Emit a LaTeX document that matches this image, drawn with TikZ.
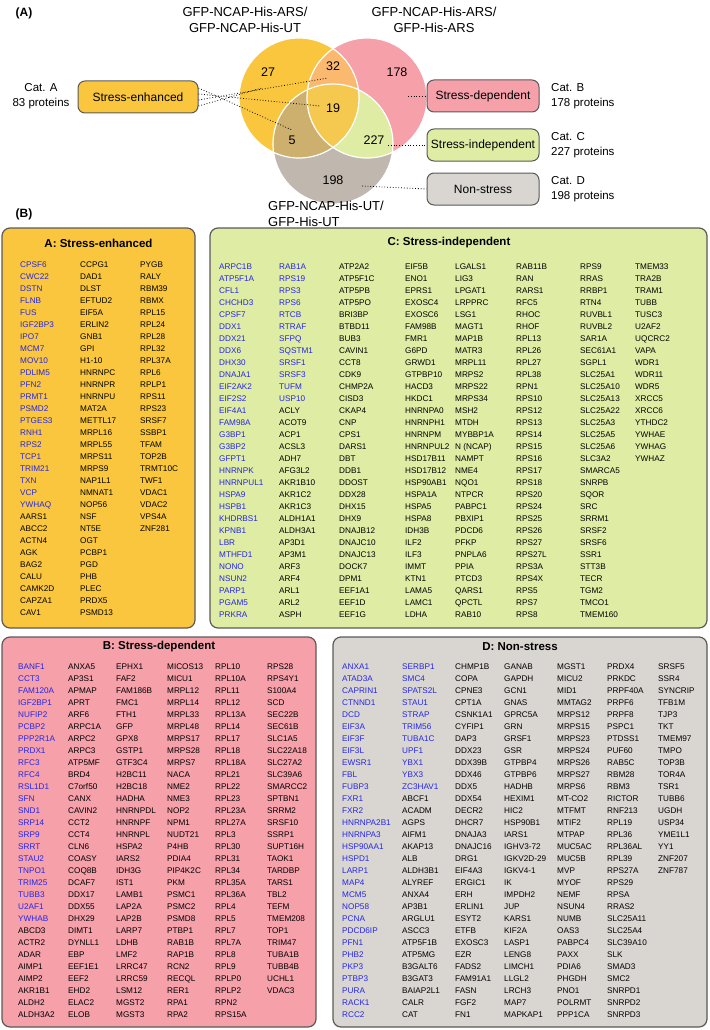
\documentclass[tikz,border=0pt]{standalone}
\usepackage{fontspec}
\setmainfont{Liberation Sans}
\usetikzlibrary{positioning}
\definecolor{catyellow}{RGB}{249,198,62}
\definecolor{catpink}{RGB}{246,160,170}
\definecolor{catgreen}{RGB}{222,236,164}
\definecolor{catgray}{RGB}{217,214,210}
\definecolor{vgray}{RGB}{192,184,174}
\definecolor{vorange}{RGB}{250,185,110}
\definecolor{vcentre}{RGB}{245,200,80}
\definecolor{vbrown}{RGB}{205,175,110}
\definecolor{geneblue}{RGB}{38,38,226}
\definecolor{panelline}{RGB}{90,90,90}

\tikzset{
  gene/.style={anchor=west, inner sep=0pt, font=\fontsize{8.2}{9}\selectfont,
    text height=6pt, text depth=0pt},
  hit/.style={gene, text=geneblue},
  panel/.style={draw=panelline, line width=1.2pt, rounded corners=8pt},
  paneltitle/.style={inner sep=0pt, font=\fontsize{11.5}{13}\selectfont\bfseries},
  catbox/.style={draw=panelline, line width=1pt, rounded corners=7pt,
    minimum width=112pt, minimum height=32pt, inner sep=0pt,
    font=\fontsize{12}{14}\selectfont},
  catlabel/.style={inner sep=0pt, font=\fontsize{11.5}{15}\selectfont},
  setlabel/.style={inner sep=0pt, align=center, font=\fontsize{13}{16}\selectfont},
  count/.style={inner sep=0pt, font=\fontsize{12.5}{14}\selectfont},
  link/.style={dotted, line width=0.8pt},
}

\begin{document}
\begin{tikzpicture}[x=1pt, y=-1pt]
\useasboundingbox (0,0) rectangle (709,1030);

% ---- (A) Venn diagram ----
\node[inner sep=0pt, font=\fontsize{12}{14}\selectfont\bfseries] (tagA) at (24,13) {(A)};
\coordinate (cy) at (299,98);
\coordinate (cp) at (367,98);
\coordinate (cg) at (333,144);
\fill[catyellow] (cy) circle (60pt);
\fill[catpink] (cp) circle (60pt);
\fill[vgray] (cg) circle (60pt);
\begin{scope}
  \clip (cy) circle (60pt);
  \fill[vorange] (cp) circle (60pt);
  \fill[vbrown] (cg) circle (60pt);
\end{scope}
\begin{scope}
  \clip (cp) circle (60pt);
  \fill[catgreen] (cg) circle (60pt);
\end{scope}
\begin{scope}
  \clip (cy) circle (60pt);
  \clip (cp) circle (60pt);
  \fill[vcentre] (cg) circle (60pt);
\end{scope}
\foreach \c in {cy,cp,cg}
  \draw[white, line width=1.2pt] (\c) circle (60pt);

\node[count] (n27) at (268,72) {27};
\node[count] (n32) at (333,66) {32};
\node[count] (n178) at (397,72) {178};
\node[count] (n19) at (333,108) {19};
\node[count] (n5) at (292,140) {5};
\node[count] (n227) at (374,140) {227};
\node[count] (n198) at (333,180) {198};

\node[setlabel] (setYA) at (245,20) {GFP-NCAP-His-ARS/\\GFP-NCAP-His-UT};
\node[setlabel] (setPA) at (434,20) {GFP-NCAP-His-ARS/\\GFP-His-ARS};
\node[setlabel, align=left, anchor=west] (setGU) at (268,214) {GFP-NCAP-His-UT/\\GFP-His-UT};

\node[catbox, fill=catyellow, minimum width=120pt] (senh) at (138,97) {Stress-enhanced};
\node[catbox, fill=catpink] (sdep) at (483,96) {Stress-dependent};
\node[catbox, fill=catgreen] (sind) at (483,145) {Stress-independent};
\node[catbox, fill=catgray] (snon) at (483,189) {Non-stress};

\node[catlabel, align=center] (catA) at (41,96) {Cat. A\\83 proteins};
\node[catlabel, align=left, anchor=west] (catB) at (551,96) {Cat. B\\178 proteins};
\node[catlabel, align=left, anchor=west] (catC) at (551,145) {Cat. C\\227 proteins};
\node[catlabel, align=left, anchor=west] (catD) at (551,189) {Cat. D\\198 proteins};

\coordinate (r27) at (262,88);
\coordinate (r32) at (328,78);
\coordinate (r19) at (320,106);
\coordinate (r5) at (292,130);
\coordinate (r178) at (408,96);
\coordinate (r227) at (388,145);
\coordinate (r198) at (362,186);
\draw[link] ([yshift=-9pt]senh.east) -- (r27);
\draw[link] ([yshift=-3pt]senh.east) -- (r32);
\draw[link] ([yshift=3pt]senh.east) -- (r19);
\draw[link] ([yshift=9pt]senh.east) -- (r5);
\draw[link] (r178) -- (sdep.west);
\draw[link] (r227) -- (sind.west);
\draw[link] (r198) -- (snon.west);

% ---- (B) protein lists ----
\node[inner sep=0pt, font=\fontsize{12}{14}\selectfont\bfseries] (tagB) at (24,214) {(B)};

% A: stress-enhanced
\draw[panel, fill=catyellow] (2,228) rectangle (195,628);
\node[paneltitle] (titA) at (98.5,243) {A: Stress-enhanced};
\foreach \g [count=\i from 0] in {CPSF6,CWC22,DSTN,FLNB,FUS,IGF2BP3,IPO7,MCM7,MOV10,PDLIM5,
    PFN2,PRMT1,PSMD2,PTGES3,RNH1,RPS2,TCP1,TRIM21,TXN,VCP,YWHAQ}
  \node[hit] (a1-\i) at (20,264+12*\i) {\g};
\foreach \g [count=\i from 21] in {AARS1,ABCC2,ACTN4,AGK,BAG2,CALU,CAMK2D,CAPZA1,CAV1}
  \node[gene] (a1-\i) at (20,264+12*\i) {\g};
\foreach \g [count=\i from 0] in {CCPG1,DAD1,DLST,EFTUD2,EIF5A,ERLIN2,GNB1,GPI,H1-10,HNRNPC,
    HNRNPR,HNRNPU,MAT2A,METTL17,MRPL16,MRPL55,MRPS11,MRPS9,NAP1L1,NMNAT1,
    NOP56,NSF,NT5E,OGT,PCBP1,PGD,PHB,PLEC,PRDX5,PSMD13}
  \node[gene] (a2-\i) at (80,264+12*\i) {\g};
\foreach \g [count=\i from 0] in {PYGB,RALY,RBM39,RBMX,RPL15,RPL24,RPL28,RPL32,RPL37A,RPL6,
    RPLP1,RPS11,RPS23,SRSF7,SSBP1,TFAM,TOP2B,TRMT10C,TWF1,VDAC1,
    VDAC2,VPS4A,ZNF281}
  \node[gene] (a3-\i) at (140,264+12*\i) {\g};

% C: stress-independent
\draw[panel, fill=catgreen] (210,228) rectangle (707,628);
\node[paneltitle] (titC) at (449,243) {C: Stress-independent};
\foreach \g [count=\i from 0] in {ARPC1B,ATP5F1A,CFL1,CHCHD3,CPSF7,DDX1,DDX21,DDX6,DHX30,DNAJA1,
    EIF2AK2,EIF2S2,EIF4A1,FAM98A,G3BP1,G3BP2,GFPT1,HNRNPK,HNRNPUL1,HSPA9,
    HSPB1,KHDRBS1,KPNB1,LBR,MTHFD1,NONO,NSUN2,PARP1,PGAM5,PRKRA}
  \node[hit] (c1-\i) at (219,266+12*\i) {\g};
\foreach \g [count=\i from 0] in {RAB1A,RPS19,RPS3,RPS6,RTCB,RTRAF,SFPQ,SQSTM1,SRSF1,SRSF3,
    TUFM,USP10}
  \node[hit] (c2-\i) at (279,266+12*\i) {\g};
\foreach \g [count=\i from 12] in {ACLY,ACOT9,ACP1,ACSL3,ADH7,AFG3L2,AKR1B10,AKR1C2,AKR1C3,ALDH1A1,
    ALDH3A1,AP3D1,AP3M1,ARF3,ARF4,ARL1,ARL2,ASPH}
  \node[gene] (c2-\i) at (279,266+12*\i) {\g};
\foreach \g [count=\i from 0] in {ATP2A2,ATP5F1C,ATP5PB,ATP5PO,BRI3BP,BTBD11,BUB3,CAVIN1,CCT8,CDK9,
    CHMP2A,CISD3,CKAP4,CNP,CPS1,DARS1,DBT,DDB1,DDOST,DDX28,
    DHX15,DHX9,DNAJB12,DNAJC10,DNAJC13,DOCK7,DPM1,EEF1A1,EEF1D,EEF1G}
  \node[gene] (c3-\i) at (339,266+12*\i) {\g};
\foreach \g [count=\i from 0] in {EIF5B,ENO1,EPRS1,EXOSC4,EXOSC6,FAM98B,FMR1,G6PD,GRWD1,GTPBP10,
    HACD3,HKDC1,HNRNPA0,HNRNPH1,HNRNPM,HNRNPUL2,HSD17B11,HSD17B12,HSP90AB1,HSPA1A,
    HSPA5,HSPA8,IDH3B,ILF2,ILF3,IMMT,KTN1,LAMA5,LAMC1,LDHA}
  \node[gene] (c4-\i) at (405,266+12*\i) {\g};
\foreach \g [count=\i from 0] in {LGALS1,LIG3,LPGAT1,LRPPRC,LSG1,MAGT1,MAP1B,MATR3,MRPL11,MRPS2,
    MRPS22,MRPS34,MSH2,MTDH,MYBBP1A,N (NCAP),NAMPT,NME4,NQO1,NTPCR,
    PABPC1,PBXIP1,PDCD6,PFKP,PNPLA6,PPIA,PTCD3,QARS1,QPCTL,RAB10}
  \node[gene] (c5-\i) at (455,266+12*\i) {\g};
\foreach \g [count=\i from 0] in {RAB11B,RAN,RARS1,RFC5,RHOC,RHOF,RPL13,RPL26,RPL27,RPL38,
    RPN1,RPS10,RPS12,RPS13,RPS14,RPS15,RPS16,RPS17,RPS18,RPS20,
    RPS24,RPS25,RPS26,RPS27,RPS27L,RPS3A,RPS4X,RPS5,RPS7,RPS8}
  \node[gene] (c6-\i) at (516,266+12*\i) {\g};
\foreach \g [count=\i from 0] in {RPS9,RRAS,RRBP1,RTN4,RUVBL1,RUVBL2,SAR1A,SEC61A1,SGPL1,SLC25A1,
    SLC25A10,SLC25A13,SLC25A22,SLC25A3,SLC25A5,SLC25A6,SLC3A2,SMARCA5,SNRPB,SQOR,
    SRC,SRRM1,SRSF2,SRSF6,SSR1,STT3B,TECR,TGM2,TMCO1,TMEM160}
  \node[gene] (c7-\i) at (580,266+12*\i) {\g};
\foreach \g [count=\i from 0] in {TMEM33,TRA2B,TRAM1,TUBB,TUSC3,U2AF2,UQCRC2,VAPA,WDR1,WDR11,
    WDR5,XRCC5,XRCC6,YTHDC2,YWHAE,YWHAG,YWHAZ}
  \node[gene] (c8-\i) at (635,266+12*\i) {\g};

% B: stress-dependent
\draw[panel, fill=catpink] (2,637) rectangle (316,1027);
\node[paneltitle] (titB) at (159,647) {B: Stress-dependent};
\foreach \g [count=\i from 0] in {BANF1,CCT3,FAM120A,IGF2BP1,NUFIP2,PCBP2,PPP2R1A,PRDX1,RFC3,RFC4,
    RSL1D1,SFN,SND1,SRP14,SRP9,SRRT,STAU2,TNPO1,TRIM25,TUBB3,
    U2AF1,YWHAB}
  \node[hit] (b1-\i) at (18,666+12*\i) {\g};
\foreach \g [count=\i from 22] in {ABCD3,ACTR2,ADAR,AIMP1,AIMP2,AKR1B1,ALDH2,ALDH3A2}
  \node[gene] (b1-\i) at (18,666+12*\i) {\g};
\foreach \g [count=\i from 0] in {ANXA5,AP3S1,APMAP,APRT,ARF6,ARPC1A,ARPC2,ARPC3,ATP5MF,BRD4,
    C7orf50,CANX,CAVIN2,CCT2,CCT4,CLN6,COASY,COQ8B,DCAF7,DDX17,
    DDX55,DHX29,DIMT1,DYNLL1,EBP,EEF1E1,EEF2,EHD2,ELAC2,ELOB}
  \node[gene] (b2-\i) at (68,666+12*\i) {\g};
\foreach \g [count=\i from 0] in {EPHX1,FAF2,FAM186B,FMC1,FTH1,GFP,GPX8,GSTP1,GTF3C4,H2BC11,
    H2BC18,HADHA,HNRNPDL,HNRNPF,HNRNPL,HSPA2,IARS2,IDH3G,IST1,LAMB1,
    LAP2A,LAP2B,LARP7,LDHB,LMF2,LRRC47,LRRC59,LSM12,MGST2,MGST3}
  \node[gene] (b3-\i) at (116,666+12*\i) {\g};
\foreach \g [count=\i from 0] in {MICOS13,MICU1,MRPL12,MRPL14,MRPL33,MRPL48,MRPS17,MRPS28,MRPS7,NACA,
    NME2,NME3,NOP2,NPM1,NUDT21,P4HB,PDIA4,PIP4K2C,PKM,PSMC1,
    PSMC2,PSMD8,PTBP1,RAB1B,RAP1B,RCN2,RECQL,RER1,RPA1,RPA2}
  \node[gene] (b4-\i) at (167,666+12*\i) {\g};
\foreach \g [count=\i from 0] in {RPL10,RPL10A,RPL11,RPL12,RPL13A,RPL14,RPL17,RPL18,RPL18A,RPL21,
    RPL22,RPL23,RPL23A,RPL27A,RPL3,RPL30,RPL31,RPL34,RPL35A,RPL36A,
    RPL4,RPL5,RPL7,RPL7A,RPL8,RPL9,RPLP0,RPLP2,RPN2,RPS15A}
  \node[gene] (b5-\i) at (215,666+12*\i) {\g};
\foreach \g [count=\i from 0] in {RPS28,RPS4Y1,S100A4,SCD,SEC22B,SEC61B,SLC1A5,SLC22A18,SLC27A2,SLC39A6,
    SMARCC2,SPTBN1,SRRM2,SRSF10,SSRP1,SUPT16H,TAOK1,TARDBP,TARS1,TBL2,
    TEFM,TMEM208,TOP1,TRIM47,TUBA1B,TUBB4B,UCHL1,VDAC3}
  \node[gene] (b6-\i) at (267,666+12*\i) {\g};

% D: non-stress
\draw[panel, fill=catgray] (333,637) rectangle (707,1027);
\node[paneltitle] (titD) at (520,647) {D: Non-stress};
\foreach \g [count=\i from 0] in {ANXA1,ATAD3A,CAPRIN1,CTNND1,DCD,EIF3A,EIF3F,EIF3L,EWSR1,FBL,
    FUBP3,FXR1,FXR2,HNRNPA2B1,HNRNPA3,HSP90AA1,HSPD1,LARP1,MAP4,MCM5,
    NOP58,PCNA,PDCD6IP,PFN1,PHB2,PKP3,PTBP3,PURA,RACK1,RCC2}
  \node[hit] (d1-\i) at (342,666+12*\i) {\g};
\foreach \g [count=\i from 0] in {SERBP1,SMC4,SPATS2L,STAU1,STRAP,TRIM56,TUBA1C,UPF1,YBX1,YBX3,
    ZC3HAV1}
  \node[hit] (d2-\i) at (402,666+12*\i) {\g};
\foreach \g [count=\i from 11] in {ABCF1,ACADM,AGPS,AIFM1,AKAP13,ALB,ALDH3B1,ALYREF,ANXA4,AP3B1,
    ARGLU1,ASCC3,ATP5F1B,ATP5MG,B3GALT6,B3GAT3,BAIAP2L1,CALR,CAT}
  \node[gene] (d2-\i) at (402,666+12*\i) {\g};
\foreach \g [count=\i from 0] in {CHMP1B,COPA,CPNE3,CPT1A,CSNK1A1,CYFIP1,DAP3,DDX23,DDX39B,DDX46,
    DDX5,DDX54,DECR2,DHCR7,DNAJA3,DNAJC16,DRG1,EIF4A3,ERGIC1,ERH,
    ERLIN1,ESYT2,ETFB,EXOSC3,EZR,FADS2,FAM91A1,FASN,FGF2,FN1}
  \node[gene] (d3-\i) at (455,666+12*\i) {\g};
\foreach \g [count=\i from 0] in {GANAB,GAPDH,GCN1,GNAS,GPRC5A,GRN,GRSF1,GSR,GTPBP4,GTPBP6,
    HADHB,HEXIM1,HIC2,HSP90B1,IARS1,IGHV3-72,IGKV2D-29,IGKV4-1,IK,IMPDH2,
    JUP,KARS1,KIF2A,LASP1,LENG8,LIMCH1,LLGL2,LRCH3,MAP7,MAPKAP1}
  \node[gene] (d4-\i) at (504,666+12*\i) {\g};
\foreach \g [count=\i from 0] in {MGST1,MICU2,MID1,MMTAG2,MRPS12,MRPS15,MRPS23,MRPS24,MRPS26,MRPS27,
    MRPS6,MT-CO2,MTFMT,MTIF2,MTPAP,MUC5AC,MUC5B,MVP,MYOF,NEMF,
    NSUN4,NUMB,OAS3,PABPC4,PAXX,PDIA6,PHGDH,PNO1,POLRMT,PPP1CA}
  \node[gene] (d5-\i) at (557,666+12*\i) {\g};
\foreach \g [count=\i from 0] in {PRDX4,PRKDC,PRPF40A,PRPF6,PRPF8,PSPC1,PTDSS1,PUF60,RAB5C,RBM28,
    RBM3,RICTOR,RNF213,RPL19,RPL36,RPL36AL,RPL39,RPS27A,RPS29,RPSA,
    RRAS2,SLC25A11,SLC25A4,SLC39A10,SLK,SMAD3,SMC2,SNRPD1,SNRPD2,SNRPD3}
  \node[gene] (d6-\i) at (607,666+12*\i) {\g};
\foreach \g [count=\i from 0] in {SRSF5,SSR4,SYNCRIP,TFB1M,TJP3,TKT,TMEM97,TMPO,TOP3B,TOR4A,
    TSR1,TUBB6,UGDH,USP34,YME1L1,YY1,ZNF207,ZNF787}
  \node[gene] (d7-\i) at (658,666+12*\i) {\g};
\end{tikzpicture}
\end{document}
